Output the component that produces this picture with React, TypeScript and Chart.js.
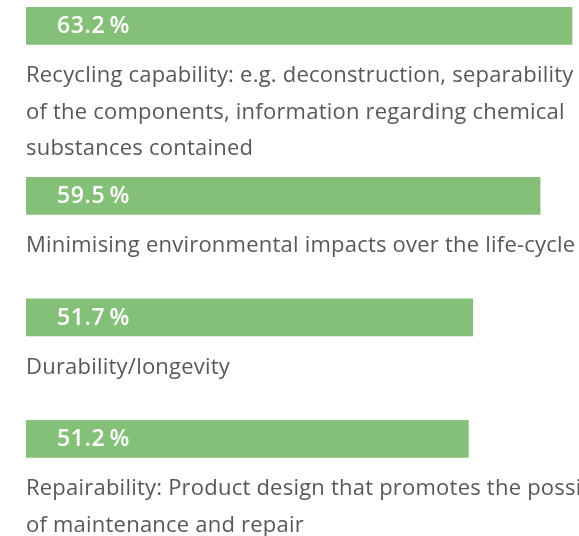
import React, { useEffect, useRef } from "react";
import { Chart, registerables } from "chart.js";

Chart.register(...registerables);

// Data
const values: number[] = [63.2, 59.5, 51.7, 51.2];
const labelLines: string[][] = [
  [
    "Recycling capability: e.g. deconstruction, separability",
    "of the components, information regarding chemical",
    "substances contained",
  ],
  ["Minimising environmental impacts over the life-cycle"],
  ["Durability/longevity"],
  [
    "Repairability: Product design that promotes the possibility",
    "of maintenance and repair",
  ],
];

// layout constants (rows on the vertical value axis)
const BAR_ROWS = 4;
const X_MAX = 64;
const BAR_COLOR = "#84c077";
const TEXT_COLOR = "#585858";

// vertical position of each item, derived from the number of label lines
const rowCenters: number[] = (() => {
  const out: number[] = [];
  let start = 0;
  labelLines.forEach((lines) => {
    out.push(start + 1);
    start += BAR_ROWS + lines.length;
  });
  return out;
})();
const TOTAL_ROWS = labelLines.reduce((s, l) => s + BAR_ROWS + l.length, 0);
const Y_MAX = TOTAL_ROWS - 1;

const labelPlugin = {
  id: "barLabels",
  afterDatasetsDraw(chart: any) {
    const ctx = chart.ctx as any;
    const meta = chart.getDatasetMeta(0);
    ctx.save();
    meta.data.forEach((bar: any, i: number) => {
      const { y, base, height } = bar.getProps(["x", "y", "base", "height"], true);
      // value inside the bar
      ctx.fillStyle = "#ffffff";
      ctx.font = "600 23px 'Open Sans'";
      ctx.letterSpacing = "0.6px";
      ctx.textAlign = "left";
      ctx.textBaseline = "middle";
      ctx.fillText(values[i].toFixed(1) + "\u2009%", base + 31, y + 1);
      // category text below the bar
      ctx.fillStyle = TEXT_COLOR;
      ctx.font = "400 22px 'Open Sans'";
      ctx.letterSpacing = "0.22px";
      ctx.textBaseline = "alphabetic";
      const bottom = y + height / 2;
      labelLines[i].forEach((line, k) => {
        ctx.fillText(line, base, bottom + 38 + k * 36.3);
      });
    });
    ctx.restore();
  },
};

export default function App() {
  const ref = useRef<HTMLCanvasElement | null>(null);

  useEffect(() => {
    document.body.style.margin = "0";
    document.body.style.overflow = "hidden";
    if (!ref.current) return;
    const chart = new Chart(ref.current, {
      type: "bar",
      data: {
        datasets: [
          {
            data: values.map((v, i) => ({ x: v, y: rowCenters[i] })),
            backgroundColor: BAR_COLOR,
            borderWidth: 0,
            barThickness: 37,
          },
        ],
      },
      options: {
        indexAxis: "y",
        responsive: false,
        animation: false,
        devicePixelRatio: 1,
        layout: { padding: { left: 26, top: 1.5, right: 0, bottom: 0 } },
        scales: {
          x: { type: "linear", min: 0, max: X_MAX, display: false },
          y: {
            type: "linear",
            min: 0,
            max: Y_MAX,
            reverse: true,
            offset: false,
            display: false,
          },
        },
        plugins: {
          legend: { display: false },
          tooltip: { enabled: false },
        },
      },
      plugins: [labelPlugin],
    } as any);
    return () => chart.destroy();
  }, []);

  return (
    <div style={{ width: 579, height: 536, overflow: "hidden" }}>
      <canvas ref={ref} width={579} height={536} style={{ display: "block" }} />
    </div>
  );
}
